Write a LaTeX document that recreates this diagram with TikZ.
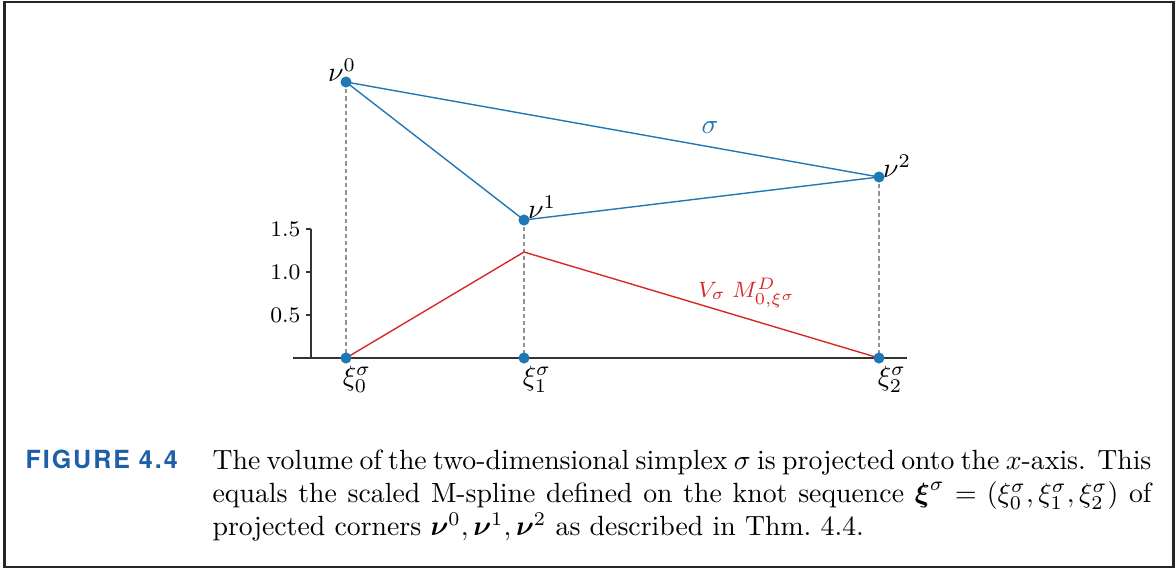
\documentclass[tikz,border=0pt]{standalone}
\usepackage{amsmath}
\usepackage{fontspec}
\newfontfamily\figfont{TeX Gyre Heros}[LetterSpace=8]
\usetikzlibrary{positioning}
\definecolor{mplblue}{HTML}{1F77B4}
\definecolor{mplred}{HTML}{D62728}
\definecolor{capblue}{HTML}{1F5FA8}
\definecolor{axisgrey}{HTML}{333333}
\tikzset{
  dot/.style={circle, fill=mplblue, inner sep=0pt, minimum size=4pt},
  edge/.style={mplblue, line width=0.5pt},
  spline/.style={mplred, line width=0.5pt},
  proj/.style={gray!85, dash pattern=on 1.5pt off 1.1pt, line width=0.4pt},
  axis/.style={axisgrey, line width=0.6pt},
  lbl/.style={inner sep=0pt, font=\normalsize},
  ticklbl/.style={inner sep=0pt, anchor=east, font=\footnotesize},
}

\begin{document}
\begin{tikzpicture}[x=0.36pt, y=-0.36pt]
    \useasboundingbox (0,0) rectangle (1176,569);
    \draw[line width=0.9pt, black!85] (4.5,2) rectangle (1173.5,567);

    % corners of the simplex, knots on the axis
    \coordinate (v0) at (346,82);
    \coordinate (v1) at (524,220);
    \coordinate (v2) at (879,177);
    \coordinate (x0) at (346,358);
    \coordinate (x1) at (524,358);
    \coordinate (x2) at (879,358);
    \coordinate (peak) at (524,252);

    % axes
    \coordinate (xl) at (293,358); \coordinate (xr) at (907,358);
    \coordinate (yt) at (311,229);
    \draw[axis] (xl) -- (xr);
    \draw[axis] (xl -| yt) -- (yt);
    \foreach \y/\t in {229/1.5, 272/1.0, 315/0.5}{
      \draw[axis] (311,\y) -- (306,\y);
      \node[ticklbl] at (301,\y) {\t};
    }

    \draw[proj] (v0) -- (x0); \draw[proj] (v1) -- (x1); \draw[proj] (v2) -- (x2);
    \draw[edge] (v0) -- (v1) -- (v2) -- cycle;
    \draw[spline] (x0) -- (peak) -- (x2);
    \foreach \p in {v0,v1,v2,x0,x1,x2}
      \node[dot] (d\p) at (\p) {};

    \node[lbl] (n0) at (342,70) {$\nu^0$};
    \node[lbl] (n1) at (542,207) {$\nu^1$};
    \node[lbl] (n2) at (897,166) {$\nu^2$};
    \node[lbl] (k0) at (357,379) {$\xi^\sigma_0$};
    \node[lbl] (k1) at (537,379) {$\xi^\sigma_1$};
    \node[lbl] (k2) at (892,379) {$\xi^\sigma_2$};
    \node[lbl, text=mplblue] (sig) at (710,128) {$\sigma$};
    \node[lbl, text=mplred, font=\footnotesize] (vm) at (747,293) {$V_\sigma\;M^D_{0,\xi^\sigma}$};

    % caption
    \node[anchor=base west, inner sep=0pt, text=capblue, font=\figfont\bfseries\fontsize{9}{11}\selectfont] (fig) at (25,468) {FIGURE 4.4};
    \node[anchor=north west, inner sep=0pt, text width=338pt, align=justify] (cap) at (212,449)
      {The volume of the two-dimensional simplex $\sigma$ is projected onto the $x$-axis. This\linebreak
       equals the scaled M-spline defined on the knot sequence $\boldsymbol{\xi}^\sigma=(\xi_0^\sigma,\xi_1^\sigma,\xi_2^\sigma)$ of\linebreak
       projected corners $\boldsymbol{\nu}^0,\boldsymbol{\nu}^1,\boldsymbol{\nu}^2$ as described in Thm.~4.4.};
\end{tikzpicture}
\end{document}
